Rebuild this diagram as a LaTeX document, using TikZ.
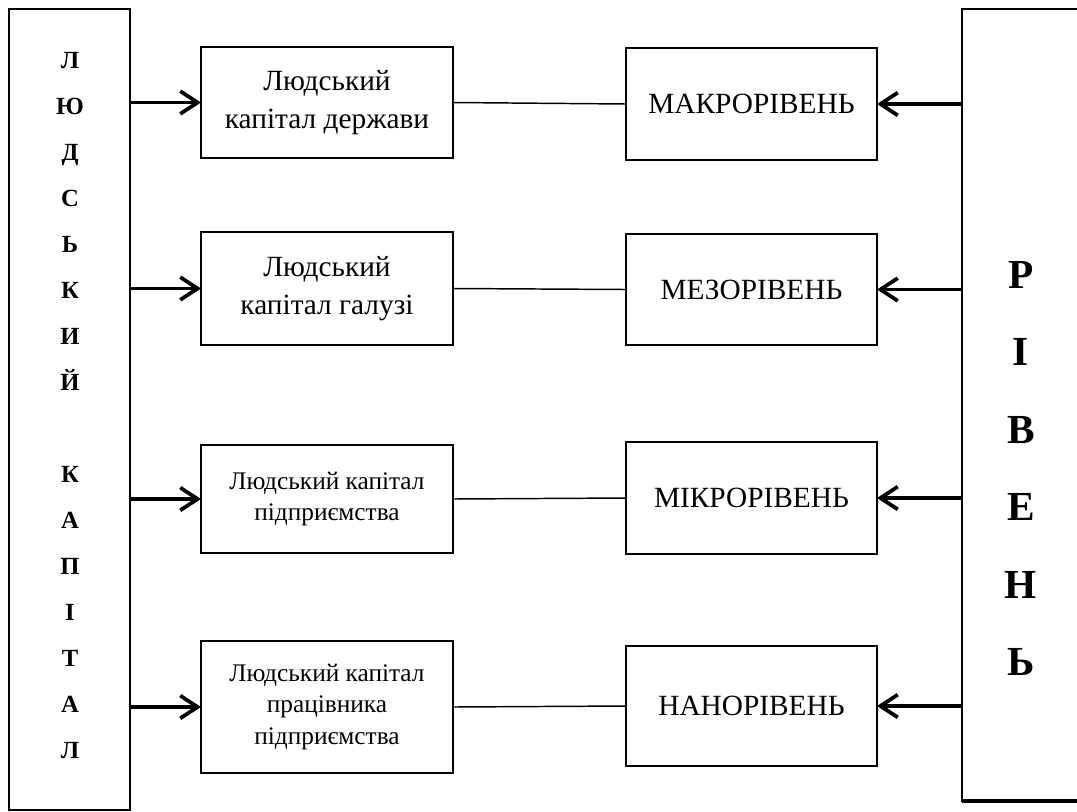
\documentclass[tikz,border=0pt]{standalone}
\usepackage{fontspec}
\setmainfont{Liberation Serif}
\usetikzlibrary{arrows.meta}

\begin{document}
\begin{tikzpicture}[x=0.75pt,y=-0.75pt,
    tall/.style={draw,line width=1.5pt,inner sep=0pt,outer sep=0pt},
    capbox/.style={draw,line width=1.1pt,inner sep=0pt,outer sep=0pt,
        minimum width=189pt,align=center},
    lvlbox/.style={draw,line width=1.1pt,inner sep=0pt,outer sep=0pt,
        minimum width=188.25pt,minimum height=84pt,
        font=\fontsize{22}{28}\selectfont},
    big/.style={font=\fontsize{22}{28.5}\selectfont},
    small/.style={font=\fontsize{19}{23.5}\selectfont},
    vletter/.style={anchor=base,font=\fontsize{18.5}{20}\selectfont\bfseries},
    hletter/.style={anchor=base,font=\fontsize{31}{36}\selectfont\bfseries},
    arr/.style={line width=2.8pt,-{Straight Barb[length=13pt,width=17pt]}},
    link/.style={line width=1.1pt}]
\useasboundingbox (0,0) rectangle (1077,811);

% two tall frames
\node[tall,minimum width=90.75pt,minimum height=600.75pt] (capital) at (69.5,409.5) {};
\node[tall,minimum width=96pt,minimum height=594pt] (level) at (1026,405) {};
\draw[line width=2.6pt] (level.south west) -- (level.south east);

\foreach \ch/\k in {Л/0,Ю/1,Д/2,С/3,Ь/4,К/5,И/6,Й/7,К/9,А/10,П/11,І/12,Т/13,А/14,Л/15}
    \node[vletter] (c\k) at (70,68+46*\k) {\ch};
\foreach \ch/\k in {Р/0,І/1,В/2,Е/3,Н/4,Ь/5}
    \node[hletter] (v\k) at (1021,288+77.5*\k) {\ch};

% left column of boxes
\node[capbox,big,minimum height=83.25pt] (cap1) at (327,102.5) {Людський\\капітал держави};
\node[capbox,big,minimum height=84.75pt] (cap2) at (327,288.5) {Людський\\капітал галузі};
\node[capbox,small,minimum height=81pt] (cap3) at (327,499) {Людський капітал\\підприємства};
\node[capbox,small,minimum height=99pt] (cap4) at (327,707) {Людський капітал\\працівника\\підприємства};

% right column of boxes
\node[lvlbox] (macro) at (751.5,104) {МАКРОРІВЕНЬ};
\node[lvlbox,minimum height=83.25pt] (meso) at (751.5,289.5) {МЕЗОРІВЕНЬ};
\node[lvlbox] (micro) at (751.5,498) {МІКРОРІВЕНЬ};
\node[lvlbox,minimum height=90pt] (nano) at (751.5,706) {НАНОРІВЕНЬ};

\foreach \a/\b in {cap1/macro,cap2/meso,cap3/micro,cap4/nano}{
    \draw[arr] (capital.east |- \a.west) -- (\a.west);
    \draw[link] (\a.east) -- (\b.west);
    \draw[arr] (level.west |- \b.east) -- (\b.east);
}
\end{tikzpicture}
\end{document}
